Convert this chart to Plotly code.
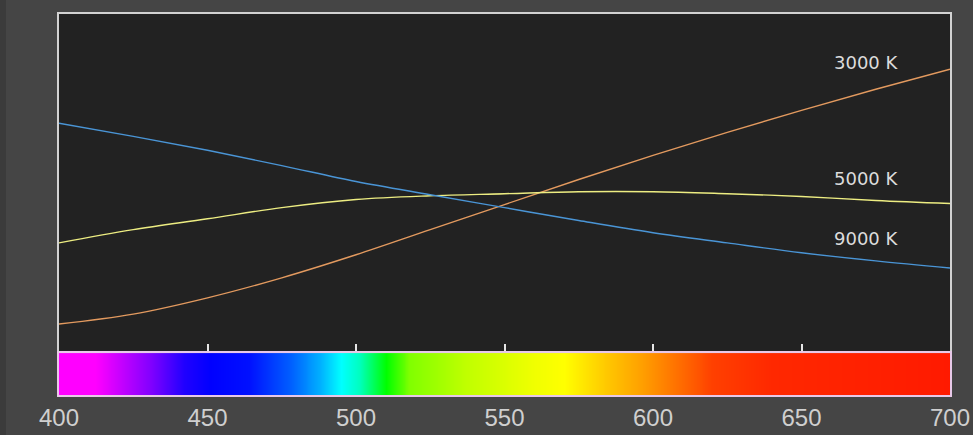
import numpy as np
import plotly.graph_objects as go

# ---- data ----
wavelength = [400, 425, 450, 475, 500, 525, 550, 575, 600, 625, 650, 675, 700]
power_3000k = [8.6, 11.5, 16.3, 22.2, 29.0, 36.4, 43.8, 51.2, 58.3, 65.1, 71.6, 77.8, 83.7]
power_5000k = [32.5, 36.4, 39.6, 42.9, 45.3, 46.4, 47.0, 47.6, 47.6, 47.0, 46.2, 45.0, 44.1]
power_9000k = [67.8, 63.9, 59.8, 55.3, 50.6, 46.7, 42.9, 39.1, 35.5, 32.5, 29.6, 27.2, 25.1]
series_names = ["3000 K", "5000 K", "9000 K"]
tick_values = [400, 450, 500, 550, 600, 650, 700]
tick_labels = ["400", "450", "500", "550", "600", "650", "700"]

# spectrum strip colour stops (nm, colour)
spectrum_nm = [400, 412, 417, 431, 442, 451, 464, 478, 488, 495, 501, 510, 518, 537, 560, 570, 582, 596, 608, 620, 640, 700]
spectrum_colors = ["#ff00ff", "#ff00ff", "#e000ff", "#8000ff", "#2000ff", "#0000ff", "#0010ff",
                   "#0060ff", "#00b0ff", "#00ffff", "#00ffc0", "#00ff00", "#80ff00", "#c0ff00",
                   "#f0ff00", "#ffff00", "#ffd000", "#ffa000", "#ff7000", "#ff4000", "#ff2800", "#ff1a00"]

line_colors = ["#e39a5f", "#eded82", "#4a95d6"]

fig = go.Figure()

for name, vals, col in zip(series_names, [power_3000k, power_5000k, power_9000k], line_colors):
    fig.add_trace(go.Scatter(x=wavelength, y=vals, mode="lines", name=name,
                             line=dict(color=col, width=1.4, shape="spline"),
                             xaxis="x", yaxis="y", showlegend=False, hoverinfo="skip"))

# spectrum strip
grid = np.arange(400, 701, 1)
cscale = [[(nm - 400) / 300, c] for nm, c in zip(spectrum_nm, spectrum_colors)]
fig.add_trace(go.Heatmap(x=grid, y=[0], z=[grid], zmin=400, zmax=700, colorscale=cscale,
                         showscale=False, zsmooth="best", xaxis="x2", yaxis="y2", hoverinfo="skip"))

# series labels
label_y = {"3000 K": 85.8, "5000 K": 51.5, "9000 K": 33.7}
for name in series_names:
    fig.add_annotation(x=672, y=label_y[name], xref="x", yref="y", text=name, showarrow=False,
                       font=dict(family="DejaVu Sans", size=18, color="#dcdcdc"))

border = "#d2d2d2"
fig.update_layout(
    width=973, height=435,
    margin=dict(l=59, r=23, t=14, b=40, autoexpand=False),
    paper_bgcolor="#454545",
    plot_bgcolor="#222222",
    xaxis=dict(domain=[0, 1], range=[400, 700], anchor="y", showgrid=False, zeroline=False,
               tickvals=tick_values[1:-1], ticks="inside", ticklen=9, tickwidth=1.5,
               tickcolor="#e6e6e6", showticklabels=False, automargin=False,
               showline=True, linecolor=border, linewidth=2, mirror=True),
    yaxis=dict(domain=[0.11, 1], range=[0, 100], anchor="x", showgrid=False, zeroline=False,
               showticklabels=False, ticks="", automargin=False,
               showline=True, linecolor=border, linewidth=2, mirror=True),
    xaxis2=dict(domain=[0, 1], range=[400, 700], anchor="y2", showgrid=False, zeroline=False,
                tickvals=tick_values, ticktext=tick_labels, ticks="", automargin=False,
                tickfont=dict(family="Liberation Sans", size=24, color="#cfcfcf"),
                showline=True, linecolor="#e8c8e8", linewidth=2, mirror=True),
    yaxis2=dict(domain=[0, 0.11], range=[-0.5, 0.5], anchor="x2", showgrid=False, zeroline=False,
                showticklabels=False, ticks="", automargin=False,
                showline=True, linecolor="#e8c8e8", linewidth=2, mirror=True),
    shapes=[dict(type="rect", xref="paper", yref="paper", x0=-59 / 891, x1=-53 / 891,
                 y0=-40 / 381, y1=1 + 14 / 381, fillcolor="#3b3b3b", line=dict(width=0), layer="below")],
)

fig.write_html("out.html", config={"displayModeBar": False},
               post_script="document.body.style.margin='0px';document.body.style.background='#454545';")
